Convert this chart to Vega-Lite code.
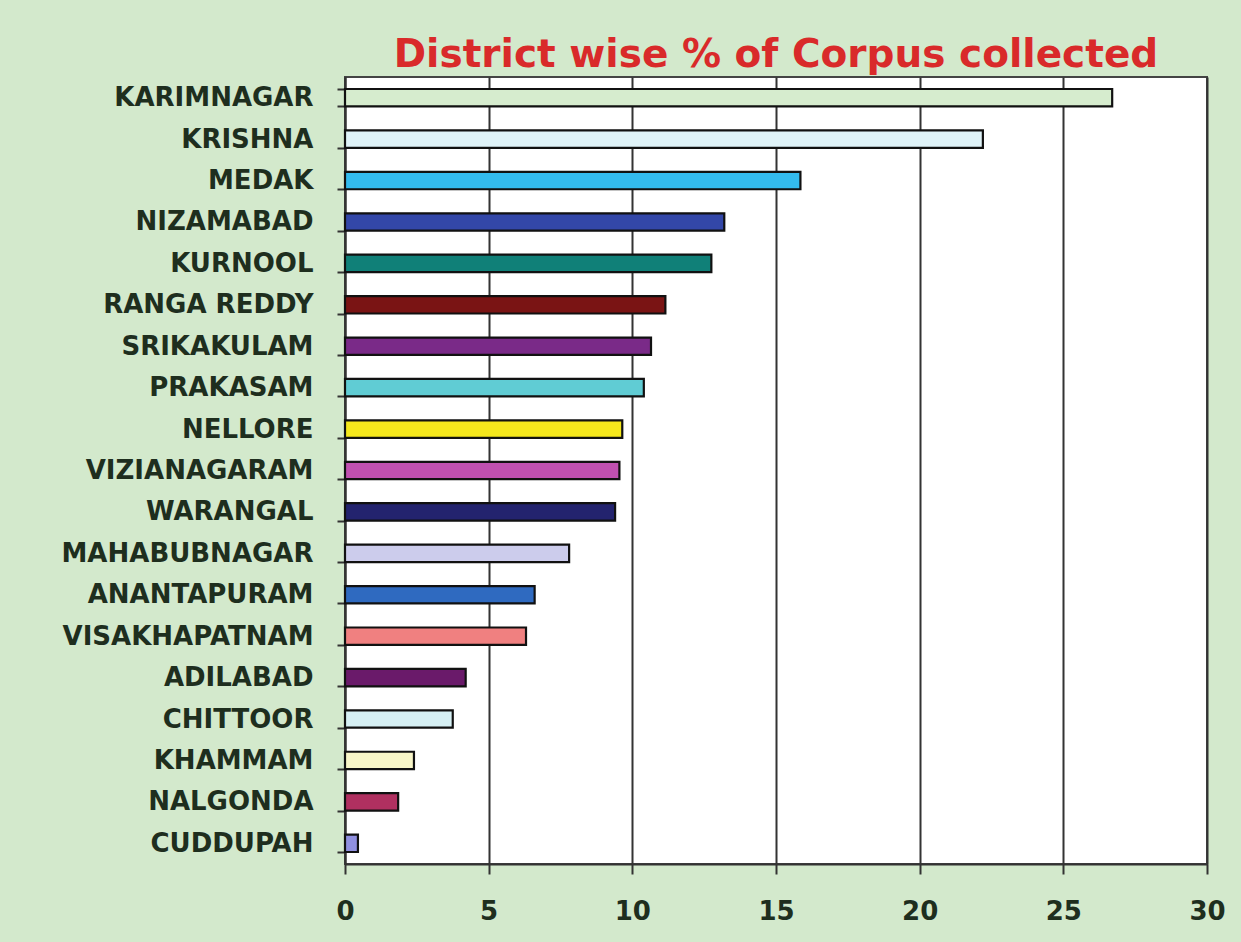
{
  "$schema": "https://vega.github.io/schema/vega-lite/v6.json",
  "autosize": {"type": "none"},
  "padding": {"left": 345, "top": 77, "right": 34, "bottom": 78},
  "width": 862,
  "height": 787,
  "background": "#d3e9cc",
  "title": {
    "text": "District wise % of Corpus collected",
    "color": "#d92a2a",
    "font": "DejaVu Sans",
    "fontSize": 39,
    "fontWeight": "bold",
    "anchor": "middle",
    "offset": -11
  },
  "config": {
    "view": {"fill": "white", "stroke": "#444444", "strokeWidth": 2}
  },
  "data": {
    "values": [
      {"district": "KARIMNAGAR", "pct": 26.7},
      {"district": "KRISHNA", "pct": 22.2},
      {"district": "MEDAK", "pct": 15.85},
      {"district": "NIZAMABAD", "pct": 13.2},
      {"district": "KURNOOL", "pct": 12.75},
      {"district": "RANGA REDDY", "pct": 11.15},
      {"district": "SRIKAKULAM", "pct": 10.65},
      {"district": "PRAKASAM", "pct": 10.4},
      {"district": "NELLORE", "pct": 9.65},
      {"district": "VIZIANAGARAM", "pct": 9.55},
      {"district": "WARANGAL", "pct": 9.4},
      {"district": "MAHABUBNAGAR", "pct": 7.8},
      {"district": "ANANTAPURAM", "pct": 6.6},
      {"district": "VISAKHAPATNAM", "pct": 6.3},
      {"district": "ADILABAD", "pct": 4.2},
      {"district": "CHITTOOR", "pct": 3.75},
      {"district": "KHAMMAM", "pct": 2.4},
      {"district": "NALGONDA", "pct": 1.85},
      {"district": "CUDDUPAH", "pct": 0.45}
    ]
  },
  "mark": {"type": "bar", "stroke": "#111111", "strokeWidth": 2.2},
  "encoding": {
    "y": {
      "field": "district",
      "type": "nominal",
      "sort": null,
      "title": null,
      "scale": {"paddingInner": 0.58, "paddingOuter": 0.29},
      "axis": {
        "tickBand": "extent",
        "tickSize": 8,
        "tickWidth": 2,
        "tickColor": "#333333",
        "domainColor": "#333333",
        "domainWidth": 2,
        "labelPadding": 24,
        "labelFont": "DejaVu Sans",
        "labelFontWeight": "bold",
        "labelFontSize": 26,
        "labelColor": "#1e2e1e",
        "labelLimit": 340
      }
    },
    "x": {
      "field": "pct",
      "type": "quantitative",
      "title": null,
      "scale": {"domain": [0, 30], "nice": false},
      "axis": {
        "values": [0, 5, 10, 15, 20, 25, 30],
        "labelFlush": false,
        "grid": true,
        "gridColor": "#333333",
        "gridWidth": 2,
        "gridOpacity": 1,
        "tickSize": 10,
        "tickWidth": 2,
        "tickColor": "#333333",
        "domainColor": "#333333",
        "domainWidth": 2,
        "labelPadding": 24,
        "labelFont": "DejaVu Sans",
        "labelFontWeight": "bold",
        "labelFontSize": 26,
        "labelColor": "#1e2e1e"
      }
    },
    "color": {
      "field": "district",
      "type": "nominal",
      "legend": null,
      "scale": {
        "domain": ["KARIMNAGAR", "KRISHNA", "MEDAK", "NIZAMABAD", "KURNOOL", "RANGA REDDY", "SRIKAKULAM", "PRAKASAM", "NELLORE", "VIZIANAGARAM", "WARANGAL", "MAHABUBNAGAR", "ANANTAPURAM", "VISAKHAPATNAM", "ADILABAD", "CHITTOOR", "KHAMMAM", "NALGONDA", "CUDDUPAH"],
        "range": ["#d6ecce", "#dff3f8", "#33bbee", "#3347a8", "#108078", "#7a1414", "#7a2a88", "#60ccd4", "#f5e81c", "#c050b0", "#23236e", "#ccccec", "#2f6ac0", "#f08080", "#6a1a6a", "#d6f0f4", "#f8f6c8", "#b03060", "#9090e0"]
      }
    }
  }
}
